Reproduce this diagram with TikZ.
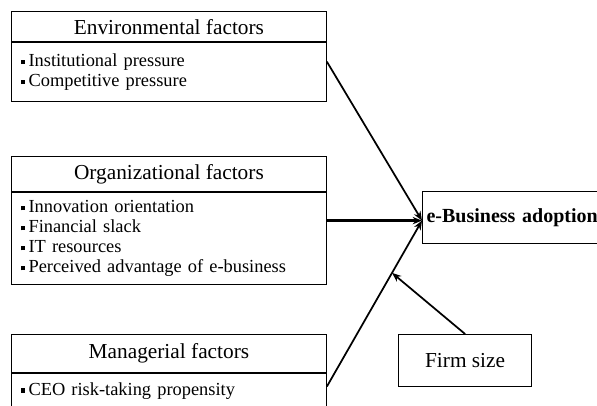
\documentclass[tikz,border=0pt]{standalone}
\usepackage{fontspec}
\setmainfont{Liberation Serif}
\usetikzlibrary{arrows.meta}
\newcommand{\sq}{\rule[0.3ex]{3.2pt}{3.2pt}\hspace{2.5pt}}
\tikzset{
  head/.style={rectangle,draw,line width=0.9pt,anchor=north west,minimum width=236pt,inner sep=0pt,font=\fontsize{16}{18}\selectfont},
  items/.style={rectangle,draw,line width=0.9pt,anchor=north west,minimum width=236pt,text width=222pt,inner xsep=7pt,inner ysep=0pt,align=left,font=\fontsize{13.8}{15}\selectfont},
  link/.style={-{Stealth[length=7pt,width=5.5pt]},line width=1.3pt},
}
\begin{document}
\begin{tikzpicture}[x=0.75pt,y=-0.75pt]
\useasboundingbox (0,0) rectangle (597,405);
\clip (0,0) rectangle (597,405);
\node (eh) [head,minimum height=22.5pt] at (11,11) {Environmental factors};
\node (eb) [items,minimum height=44.25pt] at (eh.south west) {\sq Institutional pressure\\ \sq Competitive pressure};
\node (oh) [head,minimum height=26.25pt] at (11,156) {Organizational factors};
\node (ob) [items,minimum height=69pt] at (oh.south west) {\sq Innovation orientation\\ \sq Financial slack\\ \sq IT resources\\ \sq Perceived advantage of e-business};
\node (mh) [head,minimum height=28.5pt] at (11,334) {Managerial factors};
\node (mb) [items,minimum height=25.5pt] at (mh.south west) {\sq CEO risk-taking propensity};
\node (a) [rectangle,draw,line width=0.9pt,anchor=north west,minimum width=150pt,minimum height=39pt,text width=144pt,inner xsep=2.5pt,align=left,font=\fontsize{15}{17}\bfseries] at (422,191) {e-Business adoption};
\node (s) [rectangle,draw,line width=0.9pt,anchor=north west,minimum width=99.75pt,minimum height=39pt,font=\fontsize{16}{18}\selectfont] at (398,334) {Firm size};
\coordinate (t) at ([yshift=-2.25pt]a.west);
\draw [link] ([yshift=8pt]eb.east) -- (t);
\draw [link,line width=1.8pt] (ob.east |- t) -- (t);
\draw [link] ([yshift=-10pt]mb.north east) -- coordinate[pos=0.685] (m) (t);
\draw [link] (s.north) -- (m);
\end{tikzpicture}
\end{document}
